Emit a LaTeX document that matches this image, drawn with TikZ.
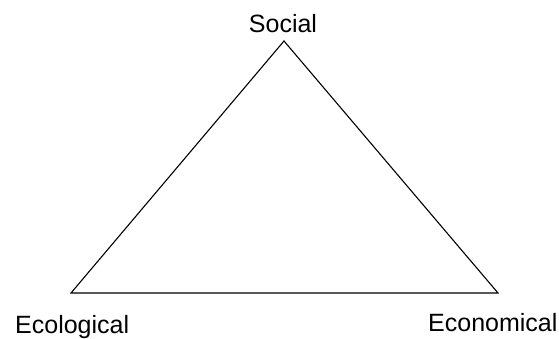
\documentclass[tikz,border=0pt]{standalone}
\usepackage{fontspec}
\setmainfont{Liberation Sans}
\usepackage{tikz}
\usetikzlibrary{positioning}

\begin{document}
\begin{tikzpicture}[x=1pt, y=-1pt, every node/.style={font=\fontsize{25}{30}\selectfont, inner sep=0pt},
  side/.style={line width=1.1pt, line join=miter}]
  \useasboundingbox (0,0) rectangle (559,338);
  % Corners
  \coordinate (top)   at (284,41);
  \coordinate (left)  at (71,293);
  \coordinate (right) at (498,293);
  \draw[side] (top) -- (left) -- (right) -- cycle;

  % Labels
  \node (social) at (283,32) [anchor=base] {Social};
  \node (ecol) at (15,333) [anchor=base west] {Ecological};
  \node (econ) at (428,331) [anchor=base west] {Economical};
\end{tikzpicture}
\end{document}
